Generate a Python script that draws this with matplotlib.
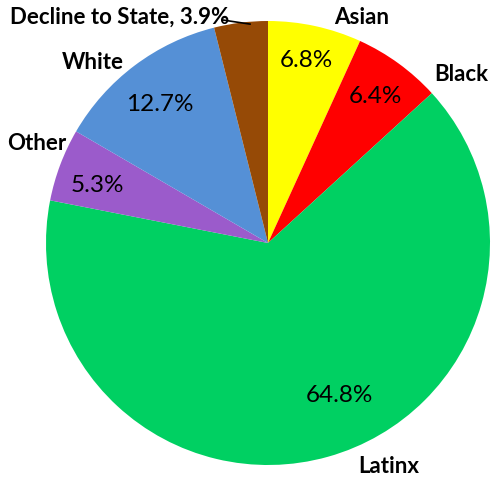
import matplotlib
matplotlib.use("Agg")
import matplotlib.pyplot as plt

categories = ["Asian", "Black", "Latinx", "Other", "White", "Decline to State"]
values = [6.8, 6.4, 64.8, 5.3, 12.7, 3.9]
colors = ["#FFFF00", "#FF0000", "#00D062", "#9B5BCB", "#5590D6", "#964A06"]

pct_pos = [(0.171, 0.824), (0.486, 0.658), (0.324, -0.685), (-0.770, 0.257), (-0.486, 0.622), None]
lbl_pos = [(0.423, 1.014), (0.869, 0.757), (0.545, -1.005), (-1.041, 0.450), (-0.788, 0.815), (-0.667, 1.018)]

plt.rcParams['font.family'] = ['Lato', 'DejaVu Sans']

fig = plt.figure(figsize=(4.91, 4.78), dpi=100)
ax = fig.add_axes([46/491, 13/478, 444/491, 444/478])
wedges, _ = ax.pie(values, colors=colors, startangle=90, counterclock=False,
                   wedgeprops=dict(linewidth=0))
ax.set_xlim(-1, 1)
ax.set_ylim(-1, 1)
ax.set_aspect('equal')
ax.axis('off')

for i, (cat, v) in enumerate(zip(categories, values)):
    if pct_pos[i] is not None:
        ax.text(pct_pos[i][0], pct_pos[i][1], f"{v:.1f}%", ha='center', va='center',
                fontsize=17.5, color='black', clip_on=False)
        ax.text(lbl_pos[i][0], lbl_pos[i][1], cat, ha='center', va='center',
                fontsize=16, fontweight='bold', color='black', clip_on=False)
    else:
        ax.text(lbl_pos[i][0], lbl_pos[i][1], f"{cat}, {v:.1f}%", ha='center', va='center',
                fontsize=16, fontweight='bold', color='black', clip_on=False)

ax.plot([-0.207, -0.081], [1.005, 0.986], color='black', linewidth=1.2, clip_on=False)

fig.savefig("out.png", dpi=100)
